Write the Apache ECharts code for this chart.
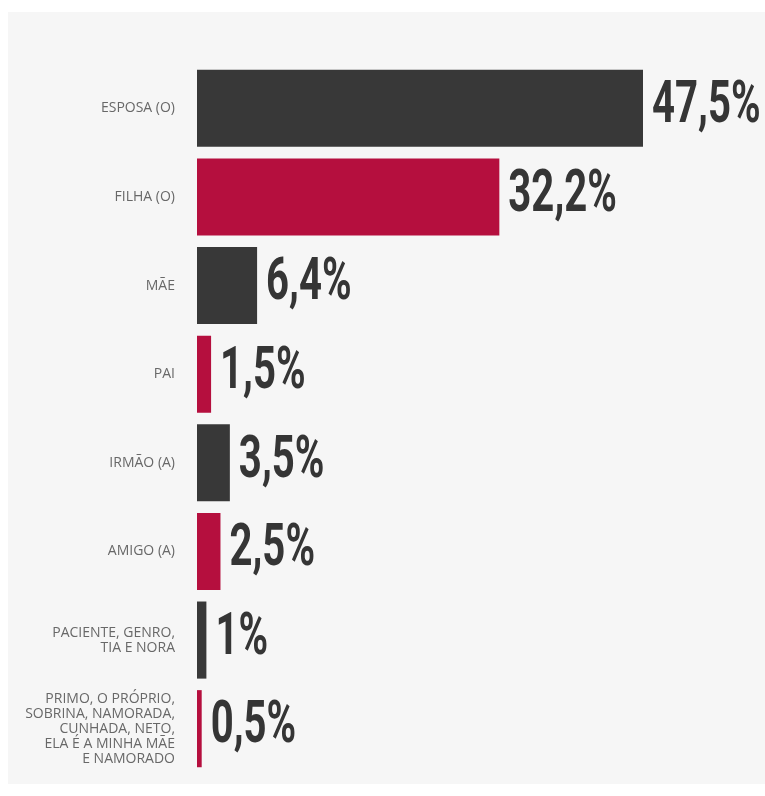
<!DOCTYPE html>
<html>
<head>
<meta charset="utf-8">
<script src="https://cdn.jsdelivr.net/npm/echarts@6/dist/echarts.min.js"></script>
<style>html,body{margin:0;padding:0;background:#fff;}#c{width:765px;height:796px;}</style>
</head>
<body>
<div id="c"></div>
<script>
const categories = [
  'ESPOSA (O)',
  'FILHA (O)',
  'MÃE',
  'PAI',
  'IRMÃO (A)',
  'AMIGO (A)',
  'PACIENTE, GENRO,\nTIA E NORA',
  'PRIMO, O PRÓPRIO,\nSOBRINA, NAMORADA,\nCUNHADA, NETO,\nELA É A MINHA MÃE\nE NAMORADO'
];
const values = [47.5, 32.2, 6.4, 1.5, 3.5, 2.5, 1, 0.5];
const barColors = ['#383838', '#b50f3e'];

const chart = echarts.init(document.getElementById('c'), null, {renderer: 'canvas'});
const fmt = v => String(v).replace('.', ',') + '%';

chart.setOption({
  backgroundColor: '#ffffff',
  animation: false,
  graphic: [{
    type: 'rect', z: -10, silent: true,
    shape: {x: 8, y: 12, width: 757, height: 772},
    style: {fill: '#f6f6f6'}
  }],
  grid: {left: 197, top: 64, width: 446, height: 709},
  xAxis: {
    type: 'value', min: 0, max: 47.5,
    show: false
  },
  yAxis: {
    type: 'category', inverse: true, data: categories,
    axisLine: {show: false}, axisTick: {show: false},
    axisLabel: {
      margin: 22, color: '#686868', fontFamily: '"Open Sans"', fontSize: 14,
      lineHeight: 15, align: 'right'
    }
  },
  series: [{
    type: 'bar',
    barCategoryGap: '13%',
    data: values.map((v, i) => ({value: v, itemStyle: {color: barColors[i % 2]}})),
    silent: true
  }, {
    type: 'custom',
    coordinateSystem: 'cartesian2d',
    clip: false,
    silent: true,
    encode: {x: 0, y: 1},
    data: values.map((v, i) => [v, i]),
    renderItem: function (params, api) {
      const v = api.value(0);
      const p = api.coord([v, api.value(1)]);
      return {
        type: 'text',
        x: p[0] + 9, y: p[1] - 1,
        scaleX: 0.68,
        style: {
          text: fmt(v),
          font: 'bold 59px Roboto',
          fill: '#353535',
          align: 'left',
          verticalAlign: 'middle'
        }
      };
    }
  }]
});
</script>
</body>
</html>
